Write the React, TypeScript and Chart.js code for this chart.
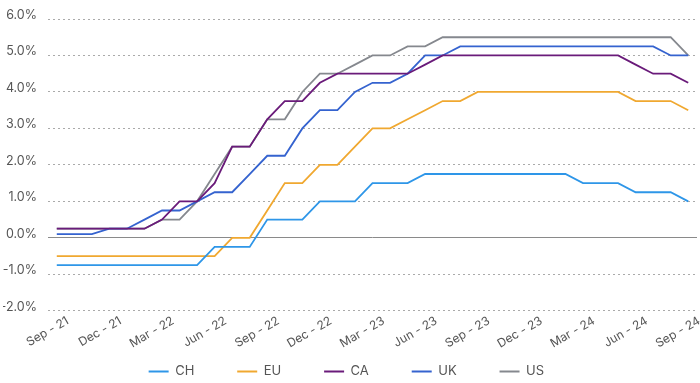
import React, { useEffect, useRef } from "react";
import { Chart, registerables } from "chart.js";

Chart.register(...registerables);

const months = [
  "Sep - 21", "Oct - 21", "Nov - 21", "Dec - 21", "Jan - 22", "Feb - 22", "Mar - 22", "Apr - 22", "May - 22",
  "Jun - 22", "Jul - 22", "Aug - 22", "Sep - 22", "Oct - 22", "Nov - 22", "Dec - 22", "Jan - 23", "Feb - 23",
  "Mar - 23", "Apr - 23", "May - 23", "Jun - 23", "Jul - 23", "Aug - 23", "Sep - 23", "Oct - 23", "Nov - 23",
  "Dec - 23", "Jan - 24", "Feb - 24", "Mar - 24", "Apr - 24", "May - 24", "Jun - 24", "Jul - 24", "Aug - 24",
  "Sep - 24",
];

const CH = [-0.75, -0.75, -0.75, -0.75, -0.75, -0.75, -0.75, -0.75, -0.75, -0.25, -0.25, -0.25, 0.5, 0.5, 0.5, 1.0, 1.0, 1.0, 1.5, 1.5, 1.5, 1.75, 1.75, 1.75, 1.75, 1.75, 1.75, 1.75, 1.75, 1.75, 1.5, 1.5, 1.5, 1.25, 1.25, 1.25, 1.0];
const EU = [-0.5, -0.5, -0.5, -0.5, -0.5, -0.5, -0.5, -0.5, -0.5, -0.5, 0, 0, 0.75, 1.5, 1.5, 2.0, 2.0, 2.5, 3.0, 3.0, 3.25, 3.5, 3.75, 3.75, 4.0, 4.0, 4.0, 4.0, 4.0, 4.0, 4.0, 4.0, 4.0, 3.75, 3.75, 3.75, 3.5];
const CA = [0.25, 0.25, 0.25, 0.25, 0.25, 0.25, 0.5, 1.0, 1.0, 1.5, 2.5, 2.5, 3.25, 3.75, 3.75, 4.25, 4.5, 4.5, 4.5, 4.5, 4.5, 4.75, 5.0, 5.0, 5.0, 5.0, 5.0, 5.0, 5.0, 5.0, 5.0, 5.0, 5.0, 4.75, 4.5, 4.5, 4.25];
const UK = [0.1, 0.1, 0.1, 0.25, 0.25, 0.5, 0.75, 0.75, 1.0, 1.25, 1.25, 1.75, 2.25, 2.25, 3.0, 3.5, 3.5, 4.0, 4.25, 4.25, 4.5, 5.0, 5.0, 5.25, 5.25, 5.25, 5.25, 5.25, 5.25, 5.25, 5.25, 5.25, 5.25, 5.25, 5.25, 5.0, 5.0];
const US = [0.25, 0.25, 0.25, 0.25, 0.25, 0.25, 0.5, 0.5, 1.0, 1.75, 2.5, 2.5, 3.25, 3.25, 4.0, 4.5, 4.5, 4.75, 5.0, 5.0, 5.25, 5.25, 5.5, 5.5, 5.5, 5.5, 5.5, 5.5, 5.5, 5.5, 5.5, 5.5, 5.5, 5.5, 5.5, 5.5, 5.0];

const seriesNames = ["CH", "EU", "CA", "UK", "US"];
const seriesData = [CH, EU, CA, UK, US];
const seriesColors = ["#2E96E8", "#F0A830", "#6A1B7A", "#3563CF", "#85888E"];

const FONT = "Inter, 'DejaVu Sans', sans-serif";

const legendFit = {
  id: "legendFit",
  afterInit(chart: any) {
    const lg = chart.legend;
    if (!lg) return;
    const orig = lg.fit;
    lg.fit = function () {
      orig.call(this);
      this.height = this.height - 5;
    };
  },
};

export default function App() {
  const ref = useRef<HTMLCanvasElement | null>(null);

  useEffect(() => {
    document.body.style.margin = "0";
    if (!ref.current) return;
    const chart = new Chart(ref.current, {
      type: "line",
      data: {
        labels: months,
        datasets: seriesNames.map((name, i) => ({
          label: name,
          data: seriesData[i],
          borderColor: seriesColors[i],
          backgroundColor: seriesColors[i],
          borderWidth: 1.8,
          pointRadius: 0,
          tension: 0,
          fill: false,
        })),
      },
      plugins: [legendFit],
      options: {
        animation: false,
        responsive: true,
        maintainAspectRatio: false,
        layout: { padding: { left: 3, right: 3, top: 19, bottom: 0 } },
        plugins: {
          tooltip: { enabled: false },
          legend: {
            position: "bottom",
            labels: {
              boxWidth: 20,
              boxHeight: 2,
              padding: 10,
              color: "#555",
              font: { family: FONT, size: 13 },
              generateLabels: (c: any) => {
                const items = Chart.defaults.plugins.legend.labels.generateLabels(c);
                return items.map((it: any, i: number) => ({
                  ...it,
                  text: i < items.length - 1 ? it.text + "         " : it.text + "  ",
                  lineWidth: 0,
                }));
              },
            },
          },
        },
        scales: {
          x: {
            offset: true,
            grid: { display: false, drawTicks: false },
            border: { display: false },
            afterFit: (scale: any) => {
              scale.height = scale.height + 1;
              scale.paddingLeft = 0;
            },
            ticks: {
              autoSkip: false,
              maxRotation: 30,
              minRotation: 30,
              padding: 3,
              labelOffset: 11,
              color: "#555",
              font: { family: FONT, size: 12 },
              callback: (_v: any, idx: number) => (idx % 3 === 0 ? months[idx] : ""),
            },
          },
          y: {
            min: -2,
            max: 6,
            afterFit: (scale: any) => {
              scale.width = 45;
            },
            grid: {
              drawTicks: false,
              color: (ctx: any) => (ctx.tick && ctx.tick.value === 0 ? "#8a8a8a" : "#aaaaaa"),
              lineWidth: 1,
            },
            border: {
              display: false,
              dash: (ctx: any) => (ctx.tick && ctx.tick.value === 0 ? [] : [2, 3]),
            },
            ticks: {
              stepSize: 1,
              padding: 11,
              labelOffset: -4,
              color: "#555",
              font: { family: FONT, size: 12.5 },
              callback: (v: any) => Number(v).toFixed(1) + "%",
            },
          },
        },
      },
    });
    return () => chart.destroy();
  }, []);

  return (
    <div style={{ position: "relative", width: 700, height: 383 }}>
      <canvas ref={ref} />
    </div>
  );
}
